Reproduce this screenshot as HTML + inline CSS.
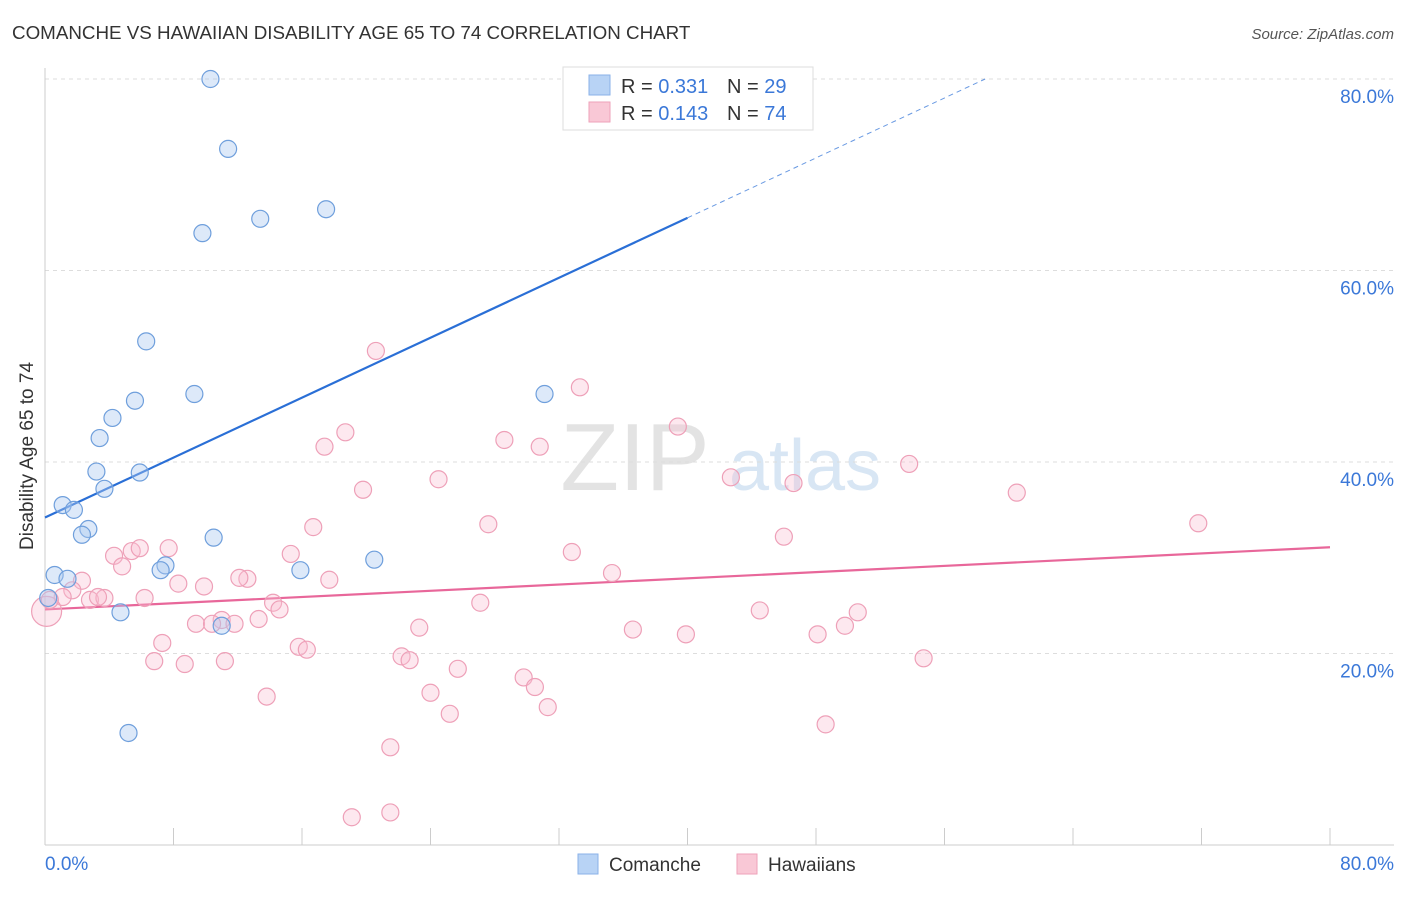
<!DOCTYPE html>
<html><head><meta charset="utf-8"><style>
body{margin:0;background:#fff;font-family:"Liberation Sans",sans-serif}
svg text{font-family:"Liberation Sans",sans-serif}
</style></head><body>
<svg id="chart" width="1406" height="892" xmlns="http://www.w3.org/2000/svg">
<text x="12" y="39" font-size="18.8" fill="#333">COMANCHE VS HAWAIIAN DISABILITY AGE 65 TO 74 CORRELATION CHART</text>
<text x="1394" y="39" font-size="15" fill="#555" font-style="italic" text-anchor="end">Source: ZipAtlas.com</text>
<text transform="translate(33,456) rotate(-90)" font-size="19" fill="#333" text-anchor="middle">Disability Age 65 to 74</text>
<g><text x="635" y="490" font-size="96" fill="#ddd" font-family="Liberation Serif" text-anchor="middle" opacity="0.8">ZIP</text><text x="805" y="490" font-size="72" fill="#cfe0f2" text-anchor="middle" opacity="0.8">atlas</text></g>
<g id="grid"></g><g id="axes"></g><g id="lines"></g><g id="pts"></g>
<g>
<rect x="563" y="67" width="250" height="63" fill="#fff" stroke="#ddd"/>
<rect x="589" y="75" width="21" height="20" fill="#b8d3f5" stroke="#8ab2e8"/>
<rect x="589" y="102" width="21" height="20" fill="#f9c8d6" stroke="#eea2b9"/>
<text x="621" y="93" font-size="20" fill="#333">R = <tspan fill="#3b78d8">0.331</tspan></text>
<text x="727" y="93" font-size="20" fill="#333">N = <tspan fill="#3b78d8">29</tspan></text>
<text x="621" y="120" font-size="20" fill="#333">R = <tspan fill="#3b78d8">0.143</tspan></text>
<text x="727" y="120" font-size="20" fill="#333">N = <tspan fill="#3b78d8">74</tspan></text>
</g>
<g>
<rect x="578" y="854" width="20" height="20" fill="#b8d3f5" stroke="#8ab2e8"/>
<text x="609" y="871" font-size="19" fill="#333">Comanche</text>
<rect x="737" y="854" width="20" height="20" fill="#f9c8d6" stroke="#eea2b9"/>
<text x="768" y="871" font-size="19" fill="#333">Hawaiians</text>
</g>
</svg>
<script>
const comancheX=[10.3,11.4,9.8,13.4,17.5,6.3,9.3,5.6,4.2,3.4,3.2,5.9,3.7,1.1,1.8,2.7,2.3,10.5,0.6,1.4,7.5,7.2,15.9,20.5,31.1,0.2,4.7,11.0,5.2];
const comancheY=[80.0,72.7,63.9,65.4,66.4,52.6,47.1,46.4,44.6,42.5,39.0,38.9,37.2,35.5,35.0,33.0,32.4,32.1,28.2,27.8,29.2,28.7,28.7,29.8,47.1,25.8,24.3,22.9,11.7];
const hawaiiX=[20.6,33.3,39.4,28.6,18.7,17.4,30.8,53.8,42.7,24.5,46.6,19.8,60.5,71.8,27.6,16.7,46.0,32.8,15.3,4.3,5.4,5.9,7.7,4.8,35.3,17.7,12.6,12.1,8.3,9.9,2.3,1.7,1.1,2.8,3.7,6.2,3.3,27.1,14.2,14.6,11.0,11.8,9.4,13.3,10.4,23.3,36.6,39.9,44.5,50.6,49.8,48.1,7.3,15.8,16.3,22.2,22.7,6.8,8.7,11.2,54.7,25.7,29.8,30.5,24.0,13.8,31.3,25.2,48.6,21.5,19.1,21.5,0.1,0.3];
const hawaiiY=[51.6,47.8,43.7,42.3,43.1,41.6,41.6,39.8,38.4,38.2,37.8,37.1,36.8,33.6,33.5,33.2,32.2,30.6,30.4,30.2,30.7,31.0,31.0,29.1,28.4,27.7,27.8,27.9,27.3,27.0,27.6,26.6,25.9,25.6,25.8,25.8,25.9,25.3,25.3,24.6,23.5,23.1,23.1,23.6,23.1,22.7,22.5,22.0,24.5,24.3,22.9,22.0,21.1,20.7,20.4,19.7,19.3,19.2,18.9,19.2,19.5,18.4,17.5,16.5,15.9,15.5,14.4,13.7,12.6,10.2,2.9,3.4,24.4,25.6];
const yTicks=[20,40,60,80];
const trendComanche=[34.2,65.5]; // y at x=0 and x=40
const trendHawaii=[24.6,31.1];   // y at x=0 and x=80
const NS="http://www.w3.org/2000/svg";
const sx=v=>45+v*(1285/80), sy=v=>845-v*(766/80);
function mk(p,t,a){const e=document.createElementNS(NS,t);for(const k in a)e.setAttribute(k,a[k]);document.getElementById(p).appendChild(e);return e;}
yTicks.forEach(t=>{
 const g=mk('grid','line',{x1:45,x2:1394,y1:sy(t),y2:sy(t),stroke:'#ddd','stroke-dasharray':'4,4'});
 
 
 const l=mk('axes','text',{x:1394,y:sy(t)+24,'font-size':19,fill:'#3b78d8','text-anchor':'end'});l.textContent=t+'.0%';
 
 
});
const ax=mk('axes','line',{x1:45,x2:45,y1:68,y2:845,stroke:'#ccc'});


const bx=mk('axes','line',{x1:45,x2:1394,y1:845,y2:845,stroke:'#ccc'});


for(let i=0;i<=10;i++){const t=mk('axes','line',{x1:sx(i*8),x2:sx(i*8),y1:828,y2:845,stroke:'#ccc'});
 
 }
[[0,'0.0%','start',45],[80,'80.0%','end',1394]].forEach(([v,s,a,x])=>{const t=mk('axes','text',{x:x,y:870,'font-size':19,fill:'#3b78d8','text-anchor':a});t.textContent=s;
 
 });
const slope=(trendComanche[1]-trendComanche[0])/40;
const l1=mk('lines','line',{x1:sx(0),y1:sy(trendComanche[0]),x2:sx(40),y2:sy(trendComanche[1]),stroke:'#2a6fd6','stroke-width':2.2});


const xe=(80-trendComanche[0])/slope;
const l2=mk('lines','line',{x1:sx(40),y1:sy(trendComanche[1]),x2:sx(xe),y2:sy(80),stroke:'#2a6fd6','stroke-width':1,'stroke-dasharray':'5,4',opacity:0.7});


const l3=mk('lines','line',{x1:sx(0),y1:sy(trendHawaii[0]),x2:sx(80),y2:sy(trendHawaii[1]),stroke:'#e8679a','stroke-width':2.2});


hawaiiX.forEach((x,i)=>{const c=mk('pts','circle',{cx:sx(x),cy:sy(hawaiiY[i]),r:i==72?15:8.5,fill:'rgba(249,190,208,0.35)',stroke:'#eea0b8','stroke-width':1.2});
 
 });
comancheX.forEach((x,i)=>{const c=mk('pts','circle',{cx:sx(x),cy:sy(comancheY[i]),r:8.5,fill:'rgba(170,200,240,0.4)',stroke:'#6f9fdc','stroke-width':1.2});
 
 });
</script>
</body></html>
